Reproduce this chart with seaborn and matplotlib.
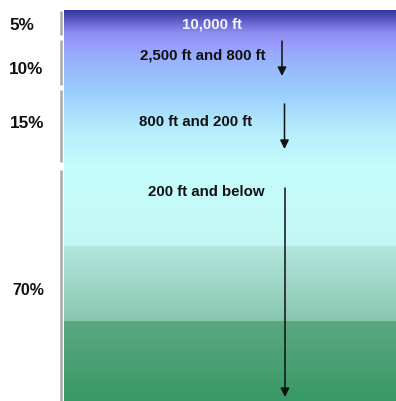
import numpy as np
import matplotlib
matplotlib.use("Agg")
import matplotlib.pyplot as plt
import seaborn as sns
from matplotlib.colors import ListedColormap, to_rgb

# layers of the column (share of the total) and their altitude ranges
layer_shares = ["5%", "10%", "15%", "70%"]
altitude_ranges = ["10,000 ft", "2,500 ft and 800 ft", "800 ft and 200 ft", "200 ft and below"]

# layout (pixel units, y grows downwards)
W, H = 396, 402
panel_left, panel_top = 64, 11
share_xy = [(22, 26), (26, 69.5), (27.5, 124), (28.5, 290.5)]
range_xy = [(212, 24.5), (202.5, 56), (196, 121.5), (206, 192)]
arrow_spans = [(282, 42, 77), (284.5, 105, 150), (285, 189, 398)]
separators = [(12, 36), (41, 86), (91, 163), (171, 402)]

# colour stops of the background gradient, three separate bands
bands = [
    (panel_top, 247, [(11, "#323296"), (22, "#5e5ec8"), (34, "#8d8df2"), (42, "#9797fa"),
                      (60, "#98b0fc"), (90, "#98cafc"), (130, "#b4ecfc"), (168, "#c4fcfc"),
                      (247, "#c3f7f3")]),
    (247, 322, [(247, "#b3e6de"), (322, "#88c6ae")]),
    (322, H, [(322, "#5aa880"), (402, "#379964")]),
]

sns.set_theme(style="white")
plt.rcParams["font.family"] = ["Liberation Sans", "DejaVu Sans"]

ys = np.arange(panel_top, H) + 0.5
row_colors = []
for y in ys:
    for lo, hi, stops in bands:
        if lo <= y < hi:
            pos = [s[0] for s in stops]
            cols = np.array([to_rgb(s[1]) for s in stops])
            row_colors.append([np.interp(y, pos, cols[:, i]) for i in range(3)])
            break
n = len(row_colors)
cmap = ListedColormap(row_colors)

fig = plt.figure(figsize=(W / 100, H / 100), dpi=100)
fig.patch.set_facecolor("white")

hax = fig.add_axes([panel_left / W, 0, 1 - panel_left / W, (H - panel_top) / H])
grad = ((np.arange(n) + 0.5) / n)[:, None]
sns.heatmap(grad, cmap=cmap, vmin=0, vmax=1, cbar=False, ax=hax,
            xticklabels=False, yticklabels=False, linewidths=0)
hax.axis("off")

ax = fig.add_axes([0, 0, 1, 1])
ax.set_xlim(0, W)
ax.set_ylim(H, 0)
ax.patch.set_alpha(0)
ax.axis("off")

for y0, y1 in separators:
    ax.plot([61, 61], [y0, y1], color="#a8a8a8", lw=1.8, solid_capstyle="butt")

for label, (x, y) in zip(layer_shares, share_xy):
    ax.text(x, y, label, ha="center", va="center", fontsize=12.3 if label != "70%" else 11.5,
            fontweight="bold", color="#111111")

for i, (label, (x, y)) in enumerate(zip(altitude_ranges, range_xy)):
    ax.text(x, y, label, ha="center", va="center", fontsize=10.8,
            fontweight="bold", color="#f4f4f4" if i == 0 else "#111111")

for x, y0, y1 in arrow_spans:
    ax.annotate("", xy=(x, y1), xytext=(x, y0),
                arrowprops=dict(arrowstyle="-|>", color="#111111", lw=1.1,
                                mutation_scale=13, shrinkA=0, shrinkB=0))

fig.savefig("out.png", dpi=100, facecolor="white")
